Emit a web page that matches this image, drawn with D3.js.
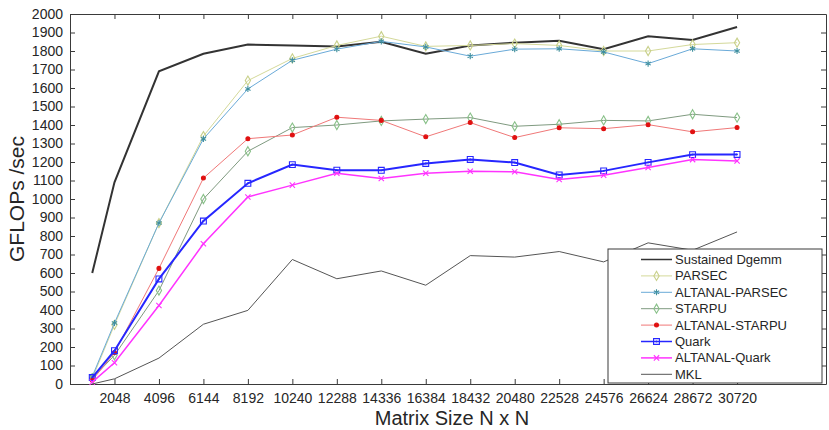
<!DOCTYPE html>
<html>
<head>
<meta charset="utf-8">
<script src="https://cdn.jsdelivr.net/npm/d3@7"></script>
<style>
  body { margin: 0; background: #fff; }
  text { font-family: "Liberation Sans", Arial, sans-serif; fill: #262626; }
</style>
</head>
<body>
<div id="chart"></div>
<script>
// Matrix sizes (x values) and tick labels
var sizes = [1024, 2048, 4096, 6144, 8192, 10240, 12288, 14336, 16384, 18432, 20480, 22528, 24576, 26624, 28672, 30720];
var xTicks = [2048, 4096, 6144, 8192, 10240, 12288, 14336, 16384, 18432, 20480, 22528, 24576, 26624, 28672, 30720];
var yTicks = d3.range(0, 2001, 100);

// GFLOPs/sec per series
var dgemm        = [600, 1090, 1690, 1785, 1835, 1830, 1825, 1850, 1785, 1830, 1845, 1855, 1810, 1880, 1860, 1930];
var parsec       = [30, 320, 870, 1340, 1640, 1760, 1830, 1880, 1825, 1830, 1840, 1830, 1800, 1800, 1835, 1845];
var altParsec    = [40, 330, 870, 1325, 1595, 1750, 1810, 1852, 1822, 1772, 1810, 1812, 1795, 1732, 1812, 1800];
var starpu       = [30, 155, 505, 1000, 1258, 1386, 1400, 1422, 1432, 1440, 1393, 1404, 1425, 1422, 1458, 1440];
var altStarpu    = [20, 170, 625, 1113, 1326, 1346, 1442, 1425, 1336, 1413, 1332, 1385, 1380, 1402, 1363, 1386];
var quark        = [35, 180, 568, 881, 1085, 1186, 1156, 1155, 1192, 1214, 1197, 1130, 1152, 1198, 1240, 1241];
var altQuark     = [10, 115, 424, 758, 1011, 1075, 1139, 1111, 1139, 1150, 1147, 1105, 1128, 1170, 1213, 1206];
var mkl          = [0, 28, 140, 323, 398, 673, 569, 611, 534, 694, 686, 716, 660, 763, 723, 822];

var seriesNames = ["Sustained Dgemm", "PARSEC", "ALTANAL-PARSEC", "STARPU", "ALTANAL-STARPU", "Quark", "ALTANAL-Quark", "MKL"];
var seriesValues = [dgemm, parsec, altParsec, starpu, altStarpu, quark, altQuark, mkl];

var styles = [
  { line: "#333333", width: 2,   marker: null },
  { line: "#d4d99a", width: 1,   marker: "diamond", mk: "#c8d08a", fill: "none" },
  { line: "#6aaad8", width: 1,   marker: "asterisk", mk: "#3f8f9f", fill: "none" },
  { line: "#7f9a80", width: 1,   marker: "diamond", mk: "#88c088", fill: "none" },
  { line: "#f07878", width: 1,   marker: "dot", mk: "#e01010", fill: "#e01010" },
  { line: "#2626ff", width: 2,   marker: "square", mk: "#2626ff", fill: "none" },
  { line: "#ff33ff", width: 1.5, marker: "x", mk: "#ff33ff", fill: "none" },
  { line: "#555555", width: 1,   marker: null }
];

var svgWidth = 829;
var svgHeight = 430;
var margin = { top: 14, right: 3, bottom: 46, left: 70 };
var width = svgWidth - margin.left - margin.right;
var height = svgHeight - margin.top - margin.bottom;

var svg = d3.select("#chart")
  .append("svg")
  .attr("width", svgWidth)
  .attr("height", svgHeight);

var chartGroup = svg.append("g")
  .attr("transform", `translate(${margin.left}, ${margin.top})`);

var x = d3.scaleLinear().domain([0, 34816]).range([0, width]);
var y = d3.scaleLinear().domain([0, 2000]).range([height, 0]);

// axes, ticks pointing inwards on all four sides
var axisColor = "#3a3a3a";
function styleAxis(g) {
  g.select(".domain").attr("stroke", axisColor);
  g.selectAll(".tick line").attr("stroke", axisColor);
  g.selectAll(".tick text").attr("font-size", "14px").attr("fill", "#262626")
    .attr("font-family", "Liberation Sans, Arial, sans-serif");
}

chartGroup.append("g")
  .attr("transform", `translate(0, ${height})`)
  .call(d3.axisBottom(x).tickValues(xTicks).tickFormat(d3.format("d")).tickSize(-5).tickPadding(9).tickSizeOuter(0))
  .call(styleAxis);

chartGroup.append("g")
  .call(d3.axisTop(x).tickValues(xTicks).tickSize(-5).tickFormat("").tickSizeOuter(0))
  .call(styleAxis);

chartGroup.append("g")
  .call(d3.axisLeft(y).tickValues(yTicks).tickFormat(d3.format("d")).tickSize(-5).tickPadding(7).tickSizeOuter(0))
  .call(styleAxis);

chartGroup.append("g")
  .attr("transform", `translate(${width}, 0)`)
  .call(d3.axisRight(y).tickValues(yTicks).tickSize(-5).tickFormat("").tickSizeOuter(0))
  .call(styleAxis);

var symbolFor = {
  diamond: d3.symbol().type(d3.symbolDiamond).size(24),
  asterisk: d3.symbol().type(d3.symbolAsterisk).size(26),
  square: d3.symbol().type(d3.symbolSquare).size(34),
  x: d3.symbol().type(d3.symbolX).size(20),
  dot: d3.symbol().type(d3.symbolCircle).size(12)
};

var line = d3.line()
  .x(function(d) { return x(d.n); })
  .y(function(d) { return y(d.v); });

seriesValues.forEach(function(vals, i) {
  var st = styles[i];
  var pts = vals.map(function(v, j) { return { n: sizes[j], v: v }; });

  chartGroup.append("path")
    .datum(pts)
    .attr("fill", "none")
    .attr("stroke", st.line)
    .attr("stroke-width", st.width)
    .attr("d", line);

  if (st.marker) {
    var mk = chartGroup.selectAll(null)
      .data(pts)
      .enter()
      .append("g")
      .attr("transform", d => `translate(${x(d.n)}, ${y(d.v)})`);
    mk.append("path")
      .attr("d", symbolFor[st.marker])
      .attr("fill", st.fill)
      .attr("stroke", st.mk)
      .attr("stroke-width", 1.1);
    if (st.marker === "square") {
      mk.append("circle").attr("r", 0.9).attr("fill", st.mk);
    }
  }
});

// legend
var legend = svg.append("g").attr("transform", "translate(608, 249)");
legend.append("rect")
  .attr("width", 214)
  .attr("height", 134)
  .attr("fill", "#fff")
  .attr("stroke", "#3a3a3a");

var rows = legend.selectAll(null)
  .data(seriesNames)
  .enter()
  .append("g")
  .attr("transform", (d, i) => `translate(0, ${10.5 + i * 16.4})`);

rows.append("line")
  .attr("x1", 33).attr("x2", 64)
  .attr("stroke", (d, i) => styles[i].line)
  .attr("stroke-width", (d, i) => Math.min(styles[i].width, 1.5));

rows.each(function(d, i) {
  var st = styles[i];
  if (!st.marker) return;
  var g = d3.select(this).append("g").attr("transform", "translate(48.5, 0)");
  g.append("path")
    .attr("d", symbolFor[st.marker])
    .attr("fill", st.fill)
    .attr("stroke", st.mk)
    .attr("stroke-width", 1.1);
  if (st.marker === "square") g.append("circle").attr("r", 0.9).attr("fill", st.mk);
});

rows.append("text")
  .attr("x", 67)
  .attr("dy", "0.35em")
  .attr("font-size", "13px")
  .text(d => d);

// axis titles
svg.append("text")
  .attr("transform", `translate(24, ${margin.top + height / 2}) rotate(-90)`)
  .attr("text-anchor", "middle")
  .attr("font-size", "21px")
  .text("GFLOPs /sec");

svg.append("text")
  .attr("x", margin.left + width / 2 + 4)
  .attr("y", 425)
  .attr("text-anchor", "middle")
  .attr("font-size", "20px")
  .text("Matrix Size N x N");
</script>
</body>
</html>
